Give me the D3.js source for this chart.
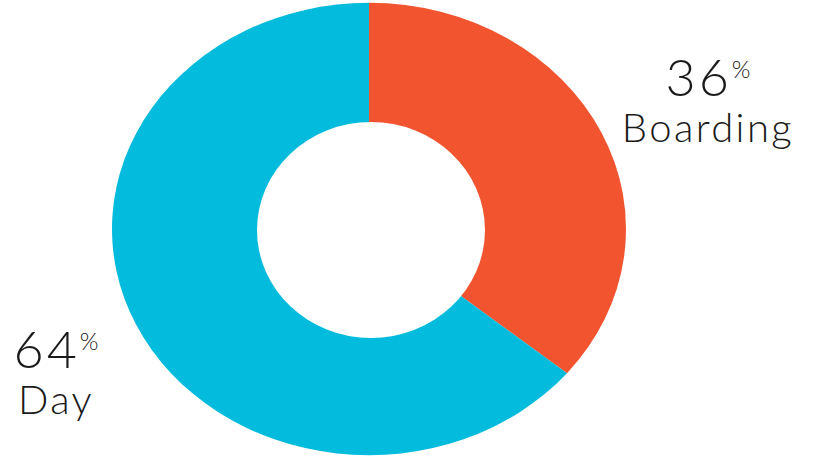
<!DOCTYPE html>
<html><head><meta charset="utf-8">
<script src="https://cdn.jsdelivr.net/npm/d3@7"></script>
<style>html,body{margin:0;padding:0;background:#fff;}svg{display:block;}</style>
</head><body>
<svg id="c" width="817" height="459"></svg>
<script>
const categories = ["Boarding", "Day"];
const values = [36, 64];
const colors = ["#F1542E", "#03BBDC"];

const svg = d3.select("#c");
const cx = 369, cy = 229, rOuter = 257, squash = 0.88;
const holeRx = 114, holeRy = 108, holeCy = 230;

const pie = d3.pie().sort(null).value(d => d.value);
const arcs = pie(categories.map((c, i) => ({ cat: c, value: values[i] })));
const arc = d3.arc().innerRadius(0).outerRadius(rOuter);

svg.append("g")
  .attr("transform", `translate(${cx},${cy}) scale(1,${squash})`)
  .selectAll("path").data(arcs).join("path")
  .attr("d", arc)
  .attr("fill", (d, i) => colors[i]);

// donut hole
svg.append("ellipse")
  .attr("cx", cx + 2).attr("cy", holeCy)
  .attr("rx", holeRx).attr("ry", holeRy)
  .attr("fill", "#fff");

const labelPos = [
  { x: 708, yNum: 96, yName: 142 },
  { x: 56, yNum: 368, yName: 414 }
];
const font = "Lato, 'Open Sans', sans-serif";
arcs.forEach((d, i) => {
  const p = labelPos[i];
  const t = svg.append("text")
    .attr("x", p.x).attr("y", p.yNum)
    .attr("text-anchor", "middle")
    .attr("font-family", font).attr("font-weight", 300)
    .attr("font-size", 52).attr("letter-spacing", 3).attr("fill", "#1a1a1a");
  t.append("tspan").text(values[i]);
  t.append("tspan").attr("font-size", 24).attr("letter-spacing", 0).attr("dy", -18).text("%");
  svg.append("text")
    .attr("x", p.x).attr("y", p.yName)
    .attr("text-anchor", "middle")
    .attr("font-family", font).attr("font-weight", 300)
    .attr("font-size", 40).attr("letter-spacing", 2.4).attr("fill", "#1a1a1a")
    .text(categories[i]);
});
</script>
</body></html>
